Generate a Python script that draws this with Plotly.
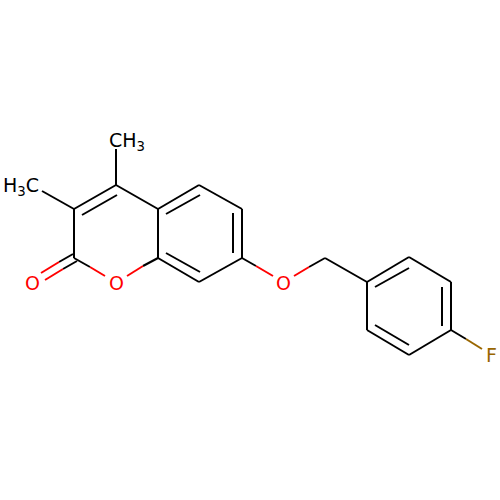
import plotly.graph_objects as go

# bond pieces, pixel positions, one piece per row
black_bonds = [
    (116, 185, 116, 149), (74, 209, 42, 191),
    (116, 185, 74, 209), (117, 195, 82, 215),
    (74, 209, 74, 258), (116, 185, 158, 209),
    (158, 209, 158, 258), (74, 258, 90, 267),
    (143, 266, 158, 258), (73, 254, 59, 262),
    (77, 261, 63, 269),
    (158, 209, 199, 185), (166, 214, 200, 195),
    (199, 185, 242, 209), (242, 209, 242, 258),
    (233, 213, 233, 253), (242, 258, 199, 282),
    (199, 282, 158, 258), (166, 253, 200, 272),
    (242, 258, 256, 266), (309, 267, 325, 258),
    (325, 258, 367, 282),
    (367, 282, 409, 257), (375, 287, 409, 268),
    (409, 257, 451, 282), (451, 282, 451, 330),
    (442, 287, 442, 326), (451, 330, 409, 355),
    (409, 355, 367, 330), (375, 325, 409, 345),
    (367, 330, 367, 282), (451, 330, 466, 339),
]
red_bonds = [
    (90, 267, 105, 276), (127, 276, 143, 266),
    (59, 262, 41, 273), (63, 269, 45, 280),
    (256, 266, 273, 276), (294, 276, 309, 267),
]
brown_bonds = [(466, 339, 482, 349)]

label_text = ["O", "O", "O", "F", "CH<sub>3</sub>", "H<sub>3</sub>C"]
label_x = [116, 32, 283, 491, 127, 21]
label_y = [283, 283, 283, 355, 141, 186]
label_color = ["#FF0000", "#FF0000", "#FF0000", "#996600", "#000000", "#000000"]


def bond_trace(bonds, color):
    xs, ys = [], []
    for x0, y0, x1, y1 in bonds:
        xs += [x0, x1, None]
        ys += [y0, y1, None]
    return go.Scatter(x=xs, y=ys, mode="lines",
                      line=dict(color=color, width=2), hoverinfo="skip")


fig = go.Figure()
fig.add_trace(bond_trace(black_bonds, "#000000"))
fig.add_trace(bond_trace(red_bonds, "#FF0000"))
fig.add_trace(bond_trace(brown_bonds, "#996600"))

for text, x, y, color in zip(label_text, label_x, label_y, label_color):
    fig.add_annotation(x=x, y=y, text=text, showarrow=False,
                       font=dict(family="DejaVu Sans", size=19, color=color))

fig.update_layout(
    width=500, height=500,
    margin=dict(l=0, r=0, t=0, b=0),
    showlegend=False,
    plot_bgcolor="white",
    paper_bgcolor="white",
    xaxis=dict(range=[0, 500], visible=False),
    yaxis=dict(range=[500, 0], visible=False),
)
# page default margin would push the plot 8px in
fig.write_html("out.html", config=dict(displayModeBar=False),
               post_script="document.body.style.margin='0';document.documentElement.style.overflow='hidden';")
